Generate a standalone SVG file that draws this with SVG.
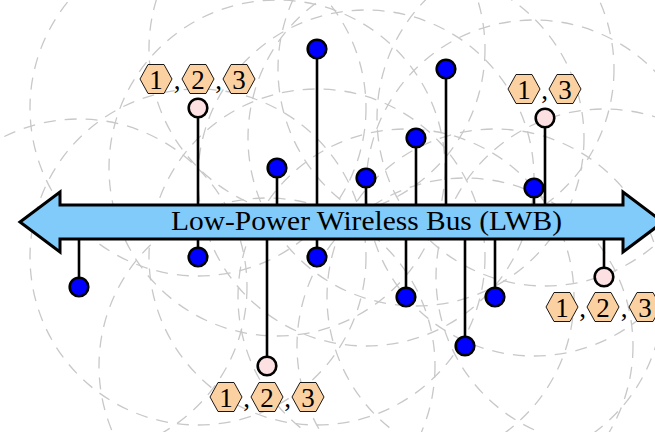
<svg xmlns="http://www.w3.org/2000/svg" width="655" height="432" viewBox="0 0 655 432">
<defs>
<style>
.range{fill:none;stroke:#c8c8c8;stroke-width:1.3;stroke-dasharray:12 9}
.wire{stroke:#000;stroke-width:2.6;fill:none}
.blue{fill:#0000ff;stroke:#000;stroke-width:2.6}
.pink{fill:#fde0e2;stroke:#000;stroke-width:2.6}
.hex{fill:#fcd1a1;stroke:#000;stroke-width:0.9}
.num{font-family:"Liberation Serif","DejaVu Serif",serif;font-size:27px;text-anchor:middle;fill:#000}
.bus{fill:#80cbfa;stroke:#000;stroke-width:3;stroke-linejoin:miter}
.title{font-family:"Liberation Serif","DejaVu Serif",serif;font-size:27px;text-anchor:middle;fill:#000}
</style>
<polygon id="hx" class="hex" points="-16,0 -8,-14.5 8,-14.5 16,0 8,14.5 -8,14.5"/>
</defs>
<rect width="655" height="432" fill="#fff"/>
<g id="ranges">
<circle class="range" cx="198" cy="108" r="168"/>
<circle class="range" cx="277" cy="168" r="168"/>
<circle class="range" cx="317" cy="49" r="168"/>
<circle class="range" cx="366" cy="178" r="168"/>
<circle class="range" cx="416" cy="138" r="168"/>
<circle class="range" cx="446" cy="69" r="168"/>
<circle class="range" cx="534" cy="188" r="168"/>
<circle class="range" cx="545" cy="118" r="168"/>
<circle class="range" cx="79" cy="287" r="168"/>
<circle class="range" cx="198" cy="257" r="168"/>
<circle class="range" cx="267" cy="366" r="168"/>
<circle class="range" cx="317" cy="257" r="168"/>
<circle class="range" cx="406" cy="297" r="168"/>
<circle class="range" cx="465" cy="346" r="168"/>
<circle class="range" cx="495" cy="297" r="168"/>
<circle class="range" cx="604" cy="277" r="168"/>
</g>
<g id="connectors">
<line class="wire" x1="198" y1="108" x2="198" y2="206"/>
<line class="wire" x1="277" y1="168" x2="277" y2="206"/>
<line class="wire" x1="317" y1="49" x2="317" y2="206"/>
<line class="wire" x1="366" y1="178" x2="366" y2="206"/>
<line class="wire" x1="416" y1="138" x2="416" y2="206"/>
<line class="wire" x1="446" y1="69" x2="446" y2="206"/>
<line class="wire" x1="534" y1="188" x2="534" y2="206"/>
<line class="wire" x1="545" y1="118" x2="545" y2="206"/>
<line class="wire" x1="79" y1="238" x2="79" y2="287"/>
<line class="wire" x1="198" y1="238" x2="198" y2="257"/>
<line class="wire" x1="267" y1="238" x2="267" y2="366"/>
<line class="wire" x1="317" y1="238" x2="317" y2="257"/>
<line class="wire" x1="406" y1="238" x2="406" y2="297"/>
<line class="wire" x1="465" y1="238" x2="465" y2="346"/>
<line class="wire" x1="495" y1="238" x2="495" y2="297"/>
<line class="wire" x1="604" y1="238" x2="604" y2="277"/>
</g>
<g id="bus">
<polygon class="bus" points="20,222 60,192 60,205 623,205 623,192 663,222 623,252 623,239 60,239 60,252"/>
<text class="title" x="366.5" y="230" textLength="391" lengthAdjust="spacingAndGlyphs">Low-Power Wireless Bus (LWB)</text>
</g>
<g id="n1">
<circle class="pink" cx="198" cy="108" r="9.3"/>
<use href="#hx" x="156" y="79"/><use href="#hx" x="198" y="79"/><use href="#hx" x="239" y="79"/>
<text class="num" x="156" y="88.5">1</text><text class="num" x="177" y="88.5">,</text>
<text class="num" x="198" y="88.5">2</text><text class="num" x="218.5" y="88.5">,</text>
<text class="num" x="239" y="88.5">3</text>
</g>
<g id="n2"><circle class="blue" cx="277" cy="168" r="9.3"/></g>
<g id="n3"><circle class="blue" cx="317" cy="49" r="9.3"/></g>
<g id="n4"><circle class="blue" cx="366" cy="178" r="9.3"/></g>
<g id="n5"><circle class="blue" cx="416" cy="138" r="9.3"/></g>
<g id="n6"><circle class="blue" cx="446" cy="69" r="9.3"/></g>
<g id="n7"><circle class="blue" cx="534" cy="188" r="9.3"/></g>
<g id="n8">
<circle class="pink" cx="545" cy="118" r="9.3"/>
<use href="#hx" x="524" y="89"/><use href="#hx" x="565" y="89"/>
<text class="num" x="524" y="98.5">1</text><text class="num" x="544.5" y="98.5">,</text>
<text class="num" x="565" y="98.5">3</text>
</g>
<g id="n9"><circle class="blue" cx="79" cy="287" r="9.3"/></g>
<g id="n10"><circle class="blue" cx="198" cy="257" r="9.3"/></g>
<g id="n11">
<circle class="pink" cx="267" cy="366" r="9.3"/>
<use href="#hx" x="226" y="397"/><use href="#hx" x="267" y="397"/><use href="#hx" x="308" y="397"/>
<text class="num" x="226" y="406.5">1</text><text class="num" x="246.5" y="406.5">,</text>
<text class="num" x="267" y="406.5">2</text><text class="num" x="287.5" y="406.5">,</text>
<text class="num" x="308" y="406.5">3</text>
</g>
<g id="n12"><circle class="blue" cx="317" cy="257" r="9.3"/></g>
<g id="n13"><circle class="blue" cx="406" cy="297" r="9.3"/></g>
<g id="n14"><circle class="blue" cx="465" cy="346" r="9.3"/></g>
<g id="n15"><circle class="blue" cx="495" cy="297" r="9.3"/></g>
<g id="n16">
<circle class="pink" cx="604" cy="277" r="9.3"/>
<use href="#hx" x="562" y="307"/><use href="#hx" x="603" y="307"/><use href="#hx" x="645" y="307"/>
<text class="num" x="562" y="316.5">1</text><text class="num" x="582.5" y="316.5">,</text>
<text class="num" x="603" y="316.5">2</text><text class="num" x="624" y="316.5">,</text>
<text class="num" x="645" y="316.5">3</text>
</g>
</svg>
